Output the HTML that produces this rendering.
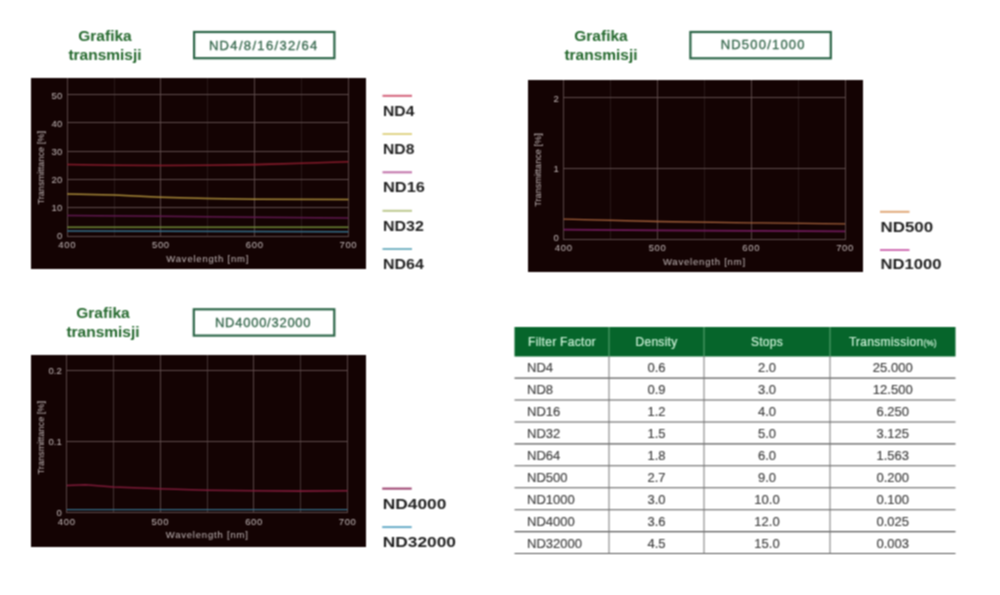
<!DOCTYPE html>
<html><head><meta charset="utf-8"><title>ND filters</title>
<style>
html,body{margin:0;padding:0;background:#fff;}
body{width:1000px;height:595px;overflow:hidden;font-family:"Liberation Sans", sans-serif;}
svg{display:block;font-family:"Liberation Sans", sans-serif;}
</style></head>
<body>
<svg width="1000" height="595" viewBox="0 0 1000 595">
<defs><filter id="soft" x="0" y="0" width="1000" height="595" filterUnits="userSpaceOnUse" color-interpolation-filters="sRGB"><feConvolveMatrix order="3" kernelMatrix="1 2 1 2 4 2 1 2 1" divisor="16" edgeMode="duplicate"/></filter></defs>
<g filter="url(#soft)">
<rect width="1000" height="595" fill="#fff"/>
<text x="105" y="41" text-anchor="middle" font-size="15.5" font-weight="bold" fill="#24682d">Grafika</text>
<text x="105" y="60" text-anchor="middle" font-size="15.5" font-weight="bold" fill="#24682d">transmisji</text>
<rect x="194.1" y="32" width="140.3" height="26.2" fill="none" stroke="#2a6446" stroke-width="2.2"/>
<text x="263.75" y="49.7" text-anchor="middle" font-size="13" letter-spacing="1.33" fill="#33654a" stroke="#33654a" stroke-width="0.3">ND4/8/16/32/64</text>
<rect x="31" y="78" width="335" height="191" fill="#140303"/>
<line x1="67.5" y1="78" x2="67.5" y2="237" stroke="#574545" stroke-width="1"/>
<line x1="114.5" y1="78" x2="114.5" y2="237" stroke="#271818" stroke-width="1"/>
<line x1="160.5" y1="78" x2="160.5" y2="237" stroke="#574545" stroke-width="1"/>
<line x1="207.5" y1="78" x2="207.5" y2="237" stroke="#271818" stroke-width="1"/>
<line x1="254.5" y1="78" x2="254.5" y2="237" stroke="#574545" stroke-width="1"/>
<line x1="301.5" y1="78" x2="301.5" y2="237" stroke="#271818" stroke-width="1"/>
<line x1="348.5" y1="78" x2="348.5" y2="237" stroke="#574545" stroke-width="1"/>
<line x1="67" y1="236.5" x2="349" y2="236.5" stroke="#5e4b4b" stroke-width="1"/>
<line x1="67" y1="207.5" x2="349" y2="207.5" stroke="#5e4b4b" stroke-width="1"/>
<line x1="67" y1="179.5" x2="349" y2="179.5" stroke="#5e4b4b" stroke-width="1"/>
<line x1="67" y1="151.5" x2="349" y2="151.5" stroke="#5e4b4b" stroke-width="1"/>
<line x1="67" y1="122.5" x2="349" y2="122.5" stroke="#5e4b4b" stroke-width="1"/>
<line x1="67" y1="94.5" x2="349" y2="94.5" stroke="#5e4b4b" stroke-width="1"/>
<polyline points="67.2,164.5 114.1,165.2 160.9,165.5 207.8,165.3 254.7,164.6 301.5,163.3 348.4,161.7" fill="none" stroke="#861a2a" stroke-width="1.6"/>
<polyline points="67.2,194.0 114.1,195.0 160.9,197.2 207.8,198.4 254.7,199.2 348.4,199.4" fill="none" stroke="#a88a38" stroke-width="1.5"/>
<polyline points="67.2,215.5 160.9,216.3 254.7,217.3 348.4,218.0" fill="none" stroke="#601850" stroke-width="1.6"/>
<polyline points="67.2,227.2 348.4,227.2" fill="none" stroke="#6e8a36" stroke-width="1.4"/>
<polyline points="67.2,231.0 348.4,231.7" fill="none" stroke="#35708c" stroke-width="1.4"/>
<text x="62.2" y="239.0" text-anchor="end" font-size="9.5" fill="#c8bebe">0</text>
<text x="62.2" y="211.0" text-anchor="end" font-size="9.5" fill="#c8bebe">10</text>
<text x="62.2" y="183.2" text-anchor="end" font-size="9.5" fill="#c8bebe">20</text>
<text x="62.2" y="155.2" text-anchor="end" font-size="9.5" fill="#c8bebe">30</text>
<text x="62.2" y="127.3" text-anchor="end" font-size="9.5" fill="#c8bebe">40</text>
<text x="62.2" y="98.7" text-anchor="end" font-size="9.5" fill="#c8bebe">50</text>
<text x="67.2" y="248.0" text-anchor="middle" font-size="9.5" letter-spacing="0.6" fill="#c8bebe">400</text>
<text x="160.9" y="248.0" text-anchor="middle" font-size="9.5" letter-spacing="0.6" fill="#c8bebe">500</text>
<text x="254.7" y="248.0" text-anchor="middle" font-size="9.5" letter-spacing="0.6" fill="#c8bebe">600</text>
<text x="348.4" y="248.0" text-anchor="middle" font-size="9.5" letter-spacing="0.6" fill="#c8bebe">700</text>
<text x="207.8" y="262" text-anchor="middle" font-size="9.5" letter-spacing="0.8" fill="#c4baba">Wavelength [nm]</text>
<text x="0" y="0" transform="translate(43.8,167.8) rotate(-90) scale(1.118,1)" text-anchor="middle" font-size="8.2" fill="#c4baba">Transmittance [%]</text>
<line x1="382.5" y1="95.8" x2="412" y2="95.8" stroke="#d36079" stroke-width="2"/>
<text x="0" y="0" transform="translate(383,115.6) scale(1.12,1)" font-size="14" font-weight="bold" fill="#1f1f1f">ND4</text>
<line x1="382.5" y1="134.0" x2="412" y2="134.0" stroke="#e0d488" stroke-width="2"/>
<text x="0" y="0" transform="translate(383,154.0) scale(1.12,1)" font-size="14" font-weight="bold" fill="#1f1f1f">ND8</text>
<line x1="382.5" y1="172.3" x2="412" y2="172.3" stroke="#c070a8" stroke-width="2"/>
<text x="0" y="0" transform="translate(383,192.4) scale(1.17,1)" font-size="14" font-weight="bold" fill="#1f1f1f">ND16</text>
<line x1="382.5" y1="210.8" x2="412" y2="210.8" stroke="#bcc88e" stroke-width="2"/>
<text x="0" y="0" transform="translate(383,230.8) scale(1.14,1)" font-size="14" font-weight="bold" fill="#1f1f1f">ND32</text>
<line x1="382.5" y1="249.0" x2="412" y2="249.0" stroke="#78b4c4" stroke-width="2"/>
<text x="0" y="0" transform="translate(383,269.2) scale(1.14,1)" font-size="14" font-weight="bold" fill="#1f1f1f">ND64</text>
<text x="601" y="40.8" text-anchor="middle" font-size="15.5" font-weight="bold" fill="#24682d">Grafika</text>
<text x="601" y="59.5" text-anchor="middle" font-size="15.5" font-weight="bold" fill="#24682d">transmisji</text>
<rect x="690.4" y="32" width="140.4" height="26.3" fill="none" stroke="#2a6446" stroke-width="2.2"/>
<text x="763.2" y="49.3" text-anchor="middle" font-size="13" letter-spacing="1.2" fill="#33654a" stroke="#33654a" stroke-width="0.3">ND500/1000</text>
<rect x="528" y="80" width="335" height="192" fill="#140303"/>
<line x1="563.5" y1="80" x2="563.5" y2="240" stroke="#574545" stroke-width="1"/>
<line x1="610.5" y1="80" x2="610.5" y2="240" stroke="#271818" stroke-width="1"/>
<line x1="657.5" y1="80" x2="657.5" y2="240" stroke="#574545" stroke-width="1"/>
<line x1="704.5" y1="80" x2="704.5" y2="240" stroke="#271818" stroke-width="1"/>
<line x1="751.5" y1="80" x2="751.5" y2="240" stroke="#574545" stroke-width="1"/>
<line x1="798.5" y1="80" x2="798.5" y2="240" stroke="#271818" stroke-width="1"/>
<line x1="845.5" y1="80" x2="845.5" y2="240" stroke="#574545" stroke-width="1"/>
<line x1="563" y1="239.5" x2="846" y2="239.5" stroke="#5e4b4b" stroke-width="1"/>
<line x1="563" y1="168.5" x2="846" y2="168.5" stroke="#5e4b4b" stroke-width="1"/>
<line x1="563" y1="97.5" x2="846" y2="97.5" stroke="#5e4b4b" stroke-width="1"/>
<polyline points="563.7,219.1 657.5,221.5 751.2,222.8 845.0,223.8" fill="none" stroke="#a4603a" stroke-width="1.3"/>
<polyline points="563.7,229.7 657.5,230.3 751.2,230.9 845.0,231.3" fill="none" stroke="#6e1a5a" stroke-width="1.8"/>
<text x="558.7" y="241.3" text-anchor="end" font-size="9.5" fill="#c8bebe">0</text>
<text x="558.7" y="171.9" text-anchor="end" font-size="9.5" fill="#c8bebe">1</text>
<text x="558.7" y="101.7" text-anchor="end" font-size="9.5" fill="#c8bebe">2</text>
<text x="563.7" y="250.8" text-anchor="middle" font-size="9.5" letter-spacing="0.6" fill="#c8bebe">400</text>
<text x="657.5" y="250.8" text-anchor="middle" font-size="9.5" letter-spacing="0.6" fill="#c8bebe">500</text>
<text x="751.2" y="250.8" text-anchor="middle" font-size="9.5" letter-spacing="0.6" fill="#c8bebe">600</text>
<text x="845.0" y="250.8" text-anchor="middle" font-size="9.5" letter-spacing="0.6" fill="#c8bebe">700</text>
<text x="704.4" y="264.5" text-anchor="middle" font-size="9.5" letter-spacing="0.8" fill="#c4baba">Wavelength [nm]</text>
<text x="0" y="0" transform="translate(540.8,170) rotate(-90) scale(1.118,1)" text-anchor="middle" font-size="8.2" fill="#c4baba">Transmittance [%]</text>
<line x1="880.0" y1="211.8" x2="909.5" y2="211.8" stroke="#e0a878" stroke-width="2"/>
<text x="0" y="0" transform="translate(880.5,231.6) scale(1.21,1)" font-size="14" font-weight="bold" fill="#1f1f1f">ND500</text>
<line x1="880.0" y1="250.0" x2="909.5" y2="250.0" stroke="#d070b4" stroke-width="2"/>
<text x="0" y="0" transform="translate(880.5,269.3) scale(1.19,1)" font-size="14" font-weight="bold" fill="#1f1f1f">ND1000</text>
<text x="103" y="318.2" text-anchor="middle" font-size="15.5" font-weight="bold" fill="#24682d">Grafika</text>
<text x="103" y="336.5" text-anchor="middle" font-size="15.5" font-weight="bold" fill="#24682d">transmisji</text>
<rect x="193.8" y="309.3" width="140.5" height="26.3" fill="none" stroke="#2a6446" stroke-width="2.2"/>
<text x="263.15000000000003" y="326.9" text-anchor="middle" font-size="13" letter-spacing="0.74" fill="#33654a" stroke="#33654a" stroke-width="0.3">ND4000/32000</text>
<rect x="31" y="355" width="335" height="192" fill="#140303"/>
<line x1="66.5" y1="355" x2="66.5" y2="513" stroke="#574545" stroke-width="1"/>
<line x1="113.5" y1="355" x2="113.5" y2="513" stroke="#433434" stroke-width="1"/>
<line x1="160.5" y1="355" x2="160.5" y2="513" stroke="#574545" stroke-width="1"/>
<line x1="207.5" y1="355" x2="207.5" y2="513" stroke="#433434" stroke-width="1"/>
<line x1="253.5" y1="355" x2="253.5" y2="513" stroke="#574545" stroke-width="1"/>
<line x1="300.5" y1="355" x2="300.5" y2="513" stroke="#433434" stroke-width="1"/>
<line x1="347.5" y1="355" x2="347.5" y2="513" stroke="#574545" stroke-width="1"/>
<line x1="66" y1="512.5" x2="348" y2="512.5" stroke="#5e4b4b" stroke-width="1"/>
<line x1="66" y1="441.5" x2="348" y2="441.5" stroke="#5e4b4b" stroke-width="1"/>
<line x1="66" y1="370.5" x2="348" y2="370.5" stroke="#5e4b4b" stroke-width="1"/>
<polyline points="66.7,485.5 85.4,484.8 113.5,487.0 160.3,488.8 207.2,490.2 254.0,490.7 300.8,491.1 347.6,490.7" fill="none" stroke="#7e1a38" stroke-width="1.6"/>
<polyline points="66.7,509.6 347.6,509.6" fill="none" stroke="#35708c" stroke-width="1.4"/>
<text x="61.7" y="515.8" text-anchor="end" font-size="9.5" fill="#c8bebe">0</text>
<text x="61.7" y="444.9" text-anchor="end" font-size="9.5" fill="#c8bebe">0.1</text>
<text x="61.7" y="374.0" text-anchor="end" font-size="9.5" fill="#c8bebe">0.2</text>
<text x="66.7" y="524.5" text-anchor="middle" font-size="9.5" letter-spacing="0.6" fill="#c8bebe">400</text>
<text x="160.3" y="524.5" text-anchor="middle" font-size="9.5" letter-spacing="0.6" fill="#c8bebe">500</text>
<text x="254.0" y="524.5" text-anchor="middle" font-size="9.5" letter-spacing="0.6" fill="#c8bebe">600</text>
<text x="347.6" y="524.5" text-anchor="middle" font-size="9.5" letter-spacing="0.6" fill="#c8bebe">700</text>
<text x="207.2" y="538" text-anchor="middle" font-size="9.5" letter-spacing="0.8" fill="#c4baba">Wavelength [nm]</text>
<text x="0" y="0" transform="translate(43.8,437.7) rotate(-90) scale(1.118,1)" text-anchor="middle" font-size="8.2" fill="#c4baba">Transmittance [%]</text>
<line x1="382.2" y1="488.6" x2="411.7" y2="488.6" stroke="#9a3e6c" stroke-width="2"/>
<text x="0" y="0" transform="translate(382.7,508.5) scale(1.24,1)" font-size="14" font-weight="bold" fill="#1f1f1f">ND4000</text>
<line x1="382.2" y1="527.1" x2="411.7" y2="527.1" stroke="#68acc8" stroke-width="2"/>
<text x="0" y="0" transform="translate(382.7,546.6) scale(1.24,1)" font-size="14" font-weight="bold" fill="#1f1f1f">ND32000</text>
<rect x="514.5" y="327" width="441.0" height="29.5" fill="#06652b"/>
<text x="528" y="346" font-size="12" letter-spacing="0.3" fill="#cdf2d8" stroke="#cdf2d8" stroke-width="0.2">Filter Factor</text>
<text x="656.5" y="346" text-anchor="middle" font-size="12" letter-spacing="0.3" fill="#cdf2d8" stroke="#cdf2d8" stroke-width="0.2">Density</text>
<text x="767.0" y="346" text-anchor="middle" font-size="12" letter-spacing="0.3" fill="#cdf2d8" stroke="#cdf2d8" stroke-width="0.2">Stops</text>
<text x="892.75" y="346" text-anchor="middle" font-size="12" letter-spacing="0.3" fill="#cdf2d8" stroke="#cdf2d8" stroke-width="0.2">Transmission<tspan font-size="8.5" letter-spacing="0" dy="-0.5">(%)</tspan></text>
<line x1="609" y1="327" x2="609" y2="356" stroke="#5ea877" stroke-width="1"/>
<line x1="704" y1="327" x2="704" y2="356" stroke="#5ea877" stroke-width="1"/>
<line x1="830" y1="327" x2="830" y2="356" stroke="#5ea877" stroke-width="1"/>
<text x="527" y="371.70" font-size="13" fill="#3c3c3c" stroke="#3c3c3c" stroke-width="0.15">ND4</text>
<text x="656.5" y="371.70" text-anchor="middle" font-size="13" fill="#3c3c3c" stroke="#3c3c3c" stroke-width="0.15">0.6</text>
<text x="767.0" y="371.70" text-anchor="middle" font-size="13" fill="#3c3c3c" stroke="#3c3c3c" stroke-width="0.15">2.0</text>
<text x="892.75" y="371.70" text-anchor="middle" font-size="13" fill="#3c3c3c" stroke="#3c3c3c" stroke-width="0.15">25.000</text>
<line x1="514.5" y1="378.10" x2="955.5" y2="378.10" stroke="#555" stroke-width="1.1"/>
<text x="527" y="393.72" font-size="13" fill="#3c3c3c" stroke="#3c3c3c" stroke-width="0.15">ND8</text>
<text x="656.5" y="393.72" text-anchor="middle" font-size="13" fill="#3c3c3c" stroke="#3c3c3c" stroke-width="0.15">0.9</text>
<text x="767.0" y="393.72" text-anchor="middle" font-size="13" fill="#3c3c3c" stroke="#3c3c3c" stroke-width="0.15">3.0</text>
<text x="892.75" y="393.72" text-anchor="middle" font-size="13" fill="#3c3c3c" stroke="#3c3c3c" stroke-width="0.15">12.500</text>
<line x1="514.5" y1="400.03" x2="955.5" y2="400.03" stroke="#555" stroke-width="1.1"/>
<text x="527" y="415.74" font-size="13" fill="#3c3c3c" stroke="#3c3c3c" stroke-width="0.15">ND16</text>
<text x="656.5" y="415.74" text-anchor="middle" font-size="13" fill="#3c3c3c" stroke="#3c3c3c" stroke-width="0.15">1.2</text>
<text x="767.0" y="415.74" text-anchor="middle" font-size="13" fill="#3c3c3c" stroke="#3c3c3c" stroke-width="0.15">4.0</text>
<text x="892.75" y="415.74" text-anchor="middle" font-size="13" fill="#3c3c3c" stroke="#3c3c3c" stroke-width="0.15">6.250</text>
<line x1="514.5" y1="421.96" x2="955.5" y2="421.96" stroke="#555" stroke-width="1.1"/>
<text x="527" y="437.76" font-size="13" fill="#3c3c3c" stroke="#3c3c3c" stroke-width="0.15">ND32</text>
<text x="656.5" y="437.76" text-anchor="middle" font-size="13" fill="#3c3c3c" stroke="#3c3c3c" stroke-width="0.15">1.5</text>
<text x="767.0" y="437.76" text-anchor="middle" font-size="13" fill="#3c3c3c" stroke="#3c3c3c" stroke-width="0.15">5.0</text>
<text x="892.75" y="437.76" text-anchor="middle" font-size="13" fill="#3c3c3c" stroke="#3c3c3c" stroke-width="0.15">3.125</text>
<line x1="514.5" y1="443.89" x2="955.5" y2="443.89" stroke="#555" stroke-width="1.1"/>
<text x="527" y="459.78" font-size="13" fill="#3c3c3c" stroke="#3c3c3c" stroke-width="0.15">ND64</text>
<text x="656.5" y="459.78" text-anchor="middle" font-size="13" fill="#3c3c3c" stroke="#3c3c3c" stroke-width="0.15">1.8</text>
<text x="767.0" y="459.78" text-anchor="middle" font-size="13" fill="#3c3c3c" stroke="#3c3c3c" stroke-width="0.15">6.0</text>
<text x="892.75" y="459.78" text-anchor="middle" font-size="13" fill="#3c3c3c" stroke="#3c3c3c" stroke-width="0.15">1.563</text>
<line x1="514.5" y1="465.82" x2="955.5" y2="465.82" stroke="#555" stroke-width="1.1"/>
<text x="527" y="481.80" font-size="13" fill="#3c3c3c" stroke="#3c3c3c" stroke-width="0.15">ND500</text>
<text x="656.5" y="481.80" text-anchor="middle" font-size="13" fill="#3c3c3c" stroke="#3c3c3c" stroke-width="0.15">2.7</text>
<text x="767.0" y="481.80" text-anchor="middle" font-size="13" fill="#3c3c3c" stroke="#3c3c3c" stroke-width="0.15">9.0</text>
<text x="892.75" y="481.80" text-anchor="middle" font-size="13" fill="#3c3c3c" stroke="#3c3c3c" stroke-width="0.15">0.200</text>
<line x1="514.5" y1="487.75" x2="955.5" y2="487.75" stroke="#555" stroke-width="1.1"/>
<text x="527" y="503.82" font-size="13" fill="#3c3c3c" stroke="#3c3c3c" stroke-width="0.15">ND1000</text>
<text x="656.5" y="503.82" text-anchor="middle" font-size="13" fill="#3c3c3c" stroke="#3c3c3c" stroke-width="0.15">3.0</text>
<text x="767.0" y="503.82" text-anchor="middle" font-size="13" fill="#3c3c3c" stroke="#3c3c3c" stroke-width="0.15">10.0</text>
<text x="892.75" y="503.82" text-anchor="middle" font-size="13" fill="#3c3c3c" stroke="#3c3c3c" stroke-width="0.15">0.100</text>
<line x1="514.5" y1="509.68" x2="955.5" y2="509.68" stroke="#555" stroke-width="1.1"/>
<text x="527" y="525.84" font-size="13" fill="#3c3c3c" stroke="#3c3c3c" stroke-width="0.15">ND4000</text>
<text x="656.5" y="525.84" text-anchor="middle" font-size="13" fill="#3c3c3c" stroke="#3c3c3c" stroke-width="0.15">3.6</text>
<text x="767.0" y="525.84" text-anchor="middle" font-size="13" fill="#3c3c3c" stroke="#3c3c3c" stroke-width="0.15">12.0</text>
<text x="892.75" y="525.84" text-anchor="middle" font-size="13" fill="#3c3c3c" stroke="#3c3c3c" stroke-width="0.15">0.025</text>
<line x1="514.5" y1="531.61" x2="955.5" y2="531.61" stroke="#555" stroke-width="1.1"/>
<text x="527" y="547.86" font-size="13" fill="#3c3c3c" stroke="#3c3c3c" stroke-width="0.15">ND32000</text>
<text x="656.5" y="547.86" text-anchor="middle" font-size="13" fill="#3c3c3c" stroke="#3c3c3c" stroke-width="0.15">4.5</text>
<text x="767.0" y="547.86" text-anchor="middle" font-size="13" fill="#3c3c3c" stroke="#3c3c3c" stroke-width="0.15">15.0</text>
<text x="892.75" y="547.86" text-anchor="middle" font-size="13" fill="#3c3c3c" stroke="#3c3c3c" stroke-width="0.15">0.003</text>
<line x1="514.5" y1="553.54" x2="955.5" y2="553.54" stroke="#555" stroke-width="1.1"/>
<line x1="609" y1="356" x2="609" y2="553.54" stroke="#777" stroke-width="1"/>
<line x1="704" y1="356" x2="704" y2="553.54" stroke="#777" stroke-width="1"/>
<line x1="830" y1="356" x2="830" y2="553.54" stroke="#777" stroke-width="1"/>
</g>
</svg>
</body></html>
